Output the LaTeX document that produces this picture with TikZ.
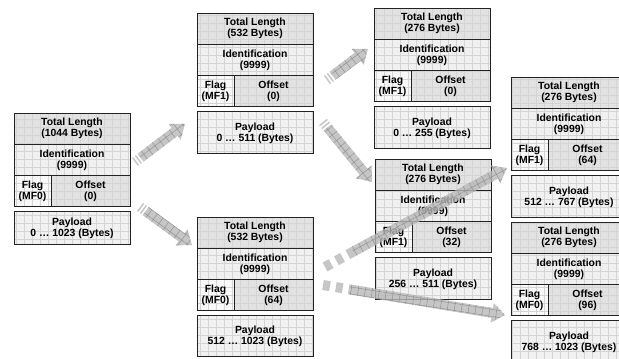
\documentclass[tikz,border=0pt]{standalone}
\usepackage{fontspec}
\setmainfont{Liberation Sans}
\usetikzlibrary{calc,patterns.meta}
\definecolor{tlfill}{HTML}{E2E2E2}
\definecolor{idfill}{HTML}{F0F0F0}
\definecolor{flfill}{HTML}{F8F8F8}
\definecolor{offill}{HTML}{E2E2E2}
\definecolor{plfill}{HTML}{F1F1F1}
\definecolor{gridc}{HTML}{D4D4D4}
\definecolor{edge}{HTML}{222222}
\definecolor{arrowfill}{HTML}{B8B8B8}
\definecolor{arrowgrid}{HTML}{909090}
\tikzset{
  cell/.style={draw=edge, line width=1pt, inner sep=0pt, outer sep=0pt,
    anchor=north west, align=center,
    font=\bfseries\fontsize{10.4}{11}\selectfont,
    pattern={Hatch[distance=8pt,line width=0.4pt]}, pattern color=gridc},
  arrowtail/.style={draw=arrowfill, line width=10pt, draw opacity=0.8},
  arrowbody/.style={fill=arrowfill, fill opacity=0.8}
}
\newcommand{\packet}[8]{%
  \node[cell, preaction={fill=tlfill}, minimum width=116pt, minimum height=31.3pt] (#1tl) at (#2,#3) {Total Length\\(#5 Bytes)};
  \node[cell, preaction={fill=idfill}, minimum width=116pt, minimum height=31.3pt] (#1id) at (#1tl.south west) {Identification\\(9999)};
  \node[cell, preaction={fill=flfill}, minimum width=37pt, minimum height=31.3pt] (#1fl) at (#1id.south west) {Flag\\(MF#6)};
  \node[cell, preaction={fill=offill}, minimum width=79pt, minimum height=31.3pt] (#1of) at (#1fl.north east) {Offset\\(#7)};
  \node[cell, preaction={fill=plfill}, minimum width=116pt, minimum height=#4pt] (#1pl) at ($(#1fl.south west)+(0,5)$) {Payload\\#8};
}
\newcommand{\fatarrow}[6]{%
  \coordinate (#1s) at (#2);
  \coordinate (#1e) at (#3);
  \coordinate (#1t) at ($(#1s)!#4!(#1e)$);
  \coordinate (#1b) at ($(#1e)!13pt!(#1s)$);
  \draw[arrowtail, dash pattern=#5] (#1s) -- (#1t);
  \fill[arrowbody, postaction={pattern={Hatch[angle=#6,distance=7pt,line width=0.45pt]}, pattern color=arrowgrid}]
    ($(#1t)!5pt!90:(#1e)$) -- ($(#1b)!5pt!90:(#1e)$) -- ($(#1b)!10pt!90:(#1e)$) -- (#1e)
    -- ($(#1b)!10pt!-90:(#1e)$) -- ($(#1b)!5pt!-90:(#1e)$) -- ($(#1t)!5pt!-90:(#1e)$) -- cycle;
}
\begin{document}
\begin{tikzpicture}[x=1pt,y=-1pt]
\useasboundingbox (0,0) rectangle (619,359);
\clip (0,0) rectangle (619,359);
\fill[white] (0,0) rectangle (619,359);
\packet{A}{14}{113}{33}{1044}{0}{0}{0 \dots\ 1023 (Bytes)}
\packet{B}{197}{13}{42}{532}{1}{0}{0 \dots\ 511 (Bytes)}
\packet{C}{197}{217}{41}{532}{0}{64}{512 \dots\ 1023 (Bytes)}
\packet{D}{374}{8}{42}{276}{1}{0}{0 \dots\ 255 (Bytes)}
\packet{E}{375}{159}{42}{276}{1}{32}{256 \dots\ 511 (Bytes)}
\packet{F}{511}{77}{42}{276}{1}{64}{512 \dots\ 767 (Bytes)}
\packet{G}{511}{222}{42}{276}{0}{96}{768 \dots\ 1023 (Bytes)}
\fatarrow{a1}{135,162}{185,124}{7pt}{on 1.5pt off 2pt}{37}
\fatarrow{a2}{140,207}{192,245}{7pt}{on 1.5pt off 2pt}{-36}
\fatarrow{a3}{327,80}{368,49}{7pt}{on 1.5pt off 2pt}{37}
\fatarrow{a4}{323,122}{372,182}{7pt}{on 1.5pt off 2pt}{-51}
\fatarrow{a5}{325,267}{507,168}{32pt}{on 7pt off 6pt}{28}
\fatarrow{a6}{323,285}{505,315}{27pt}{on 7pt off 6pt}{-9}
\end{tikzpicture}
\end{document}
